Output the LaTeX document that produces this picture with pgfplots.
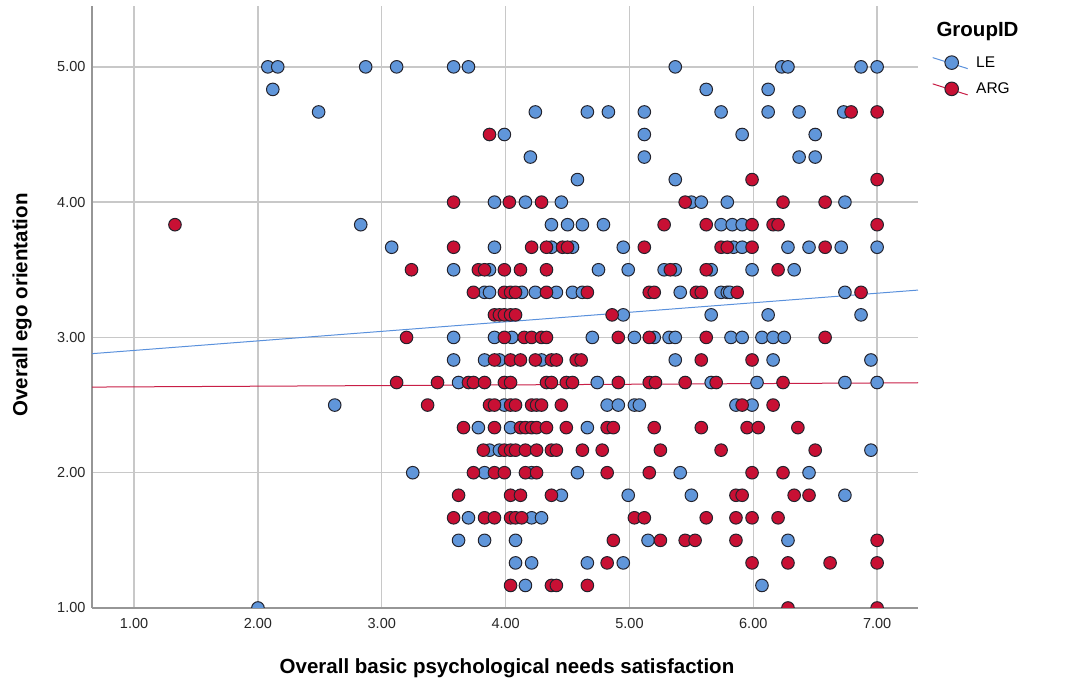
\documentclass[border=0pt]{standalone}
\usepackage{pgfplots}
\usepackage{pgfplotstable}
\pgfplotsset{compat=1.18}
\usepackage{fontspec}
\setmainfont{Liberation Sans}

\definecolor{ptblue}{RGB}{96,150,218}
\definecolor{ptred}{RGB}{200,16,52}
\definecolor{lineblue}{RGB}{90,145,220}
\definecolor{linered}{RGB}{200,30,70}
\definecolor{edgec}{RGB}{35,35,45}
\definecolor{gridc}{RGB}{200,200,200}
\definecolor{axisc}{RGB}{150,150,150}

% Group LE
\pgfplotstableread{
x y
2.08 5 
2.16 5 
2.87 5 
3.12 5 
3.58 5 
3.70 5 
5.37 5 
6.23 5 
6.28 5 
6.87 5 
7.00 5
2.12 4.8333
5.62 4.8333
6.12 4.8333
2.49 4.6667
4.24 4.6667
4.66 4.6667
4.83 4.6667
5.12 4.6667
5.74 4.6667
6.12 4.6667
6.37 4.6667
6.73 4.6667
3.99 4.5
5.12 4.5
5.91 4.5
6.50 4.5
4.20 4.3333
5.12 4.3333
6.37 4.3333
6.50 4.3333
4.58 4.1667
5.37 4.1667
3.91 4
4.16 4
4.45 4
5.50 4
5.58 4
5.79 4
6.74 4
2.83 3.8333
4.37 3.8333
4.50 3.8333
4.62 3.8333
4.79 3.8333
5.74 3.8333
5.83 3.8333
5.91 3.8333
3.08 3.6667
3.91 3.6667
4.37 3.6667
4.54 3.6667
4.95 3.6667
5.84 3.6667
5.91 3.6667
6.28 3.6667
6.45 3.6667
6.71 3.6667
7.00 3.6667
3.58 3.5
3.87 3.5
4.75 3.5
4.99 3.5
5.28 3.5
5.37 3.5
5.66 3.5
5.99 3.5
6.33 3.5
3.83 3.3333
3.87 3.3333
4.13 3.3333
4.24 3.3333
4.41 3.3333
4.54 3.3333
4.62 3.3333
5.41 3.3333
5.74 3.3333
5.79 3.3333
5.81 3.3333
6.74 3.3333
4.95 3.1667
5.66 3.1667
6.12 3.1667
6.87 3.1667
3.58 3
3.91 3
4.05 3
4.70 3
5.04 3
5.20 3
5.32 3
5.37 3
5.82 3
5.91 3
6.07 3
6.16 3
6.25 3
3.58 2.8333
3.83 2.8333
3.95 2.8333
4.29 2.8333
5.37 2.8333
6.16 2.8333
6.95 2.8333
3.62 2.6667
4.74 2.6667
5.66 2.6667
6.03 2.6667
6.74 2.6667
7.00 2.6667
2.62 2.5
3.99 2.5
4.82 2.5
4.91 2.5
5.04 2.5
5.08 2.5
5.86 2.5
5.99 2.5
3.78 2.3333
4.04 2.3333
4.66 2.3333
3.87 2.1667
3.95 2.1667
6.95 2.1667
3.25 2
3.83 2
4.21 2
4.58 2
5.41 2
6.45 2
4.45 1.8333
4.99 1.8333
5.50 1.8333
6.74 1.8333
3.70 1.6667
4.21 1.6667
4.29 1.6667
3.62 1.5
3.83 1.5
4.08 1.5
5.15 1.5
6.28 1.5
4.08 1.3333
4.21 1.3333
4.66 1.3333
4.95 1.3333
4.16 1.1667
6.07 1.1667
2.00 1
}\groupLE

% Group ARG
\pgfplotstableread{
x y
6.79 4.6667
7.00 4.6667
3.87 4.5
5.99 4.1667
7.00 4.1667
3.58 4
4.03 4
4.29 4
5.45 4
6.24 4
6.58 4
1.33 3.8333
5.28 3.8333
5.62 3.8333
5.99 3.8333
6.16 3.8333
6.20 3.8333
7.00 3.8333
3.58 3.6667
4.21 3.6667
4.33 3.6667
4.46 3.6667
4.50 3.6667
5.12 3.6667
5.74 3.6667
5.79 3.6667
5.99 3.6667
6.58 3.6667
3.24 3.5
3.78 3.5
3.83 3.5
3.99 3.5
4.12 3.5
4.33 3.5
5.33 3.5
5.62 3.5
6.20 3.5
3.74 3.3333
3.99 3.3333
4.04 3.3333
4.08 3.3333
4.33 3.3333
4.66 3.3333
5.16 3.3333
5.20 3.3333
5.54 3.3333
5.58 3.3333
5.87 3.3333
6.87 3.3333
3.91 3.1667
3.95 3.1667
3.99 3.1667
4.04 3.1667
4.08 3.1667
4.86 3.1667
3.20 3
3.99 3
4.15 3
4.21 3
4.29 3
4.33 3
4.91 3
5.16 3
5.62 3
6.58 3
3.91 2.8333
4.04 2.8333
4.12 2.8333
4.24 2.8333
4.37 2.8333
4.41 2.8333
4.57 2.8333
4.61 2.8333
5.58 2.8333
5.99 2.8333
3.12 2.6667
3.45 2.6667
3.70 2.6667
3.74 2.6667
3.83 2.6667
3.99 2.6667
4.04 2.6667
4.33 2.6667
4.37 2.6667
4.49 2.6667
4.54 2.6667
4.91 2.6667
5.16 2.6667
5.21 2.6667
5.45 2.6667
5.70 2.6667
6.24 2.6667
3.37 2.5
3.87 2.5
3.91 2.5
4.04 2.5
4.08 2.5
4.21 2.5
4.25 2.5
4.29 2.5
4.45 2.5
5.91 2.5
6.16 2.5
3.66 2.3333
3.91 2.3333
4.12 2.3333
4.16 2.3333
4.21 2.3333
4.25 2.3333
4.33 2.3333
4.49 2.3333
4.82 2.3333
4.87 2.3333
5.20 2.3333
5.58 2.3333
5.95 2.3333
6.04 2.3333
6.36 2.3333
3.82 2.1667
3.99 2.1667
4.04 2.1667
4.08 2.1667
4.16 2.1667
4.25 2.1667
4.37 2.1667
4.41 2.1667
4.62 2.1667
4.78 2.1667
5.25 2.1667
5.74 2.1667
6.50 2.1667
3.74 2
3.91 2
3.99 2
4.16 2
4.25 2
4.82 2
5.16 2
5.99 2
6.24 2
3.62 1.8333
4.04 1.8333
4.12 1.8333
4.37 1.8333
5.86 1.8333
5.91 1.8333
6.33 1.8333
6.45 1.8333
3.58 1.6667
3.83 1.6667
3.91 1.6667
4.04 1.6667
4.08 1.6667
4.13 1.6667
5.04 1.6667
5.12 1.6667
5.62 1.6667
5.86 1.6667
5.99 1.6667
6.20 1.6667
4.87 1.5
5.25 1.5
5.45 1.5
5.53 1.5
5.86 1.5
7.00 1.5
4.82 1.3333
5.99 1.3333
6.28 1.3333
6.62 1.3333
7.00 1.3333
4.04 1.1667
4.37 1.1667
4.41 1.1667
4.66 1.1667
6.28 1
7.00 1
}\groupARG

\begin{document}
\begin{tikzpicture}[x=1pt,y=1pt]
\useasboundingbox (0,0) rectangle (1077,687);
\begin{axis}[
  at={(92pt,79pt)}, anchor=south west,
  scale only axis, width=826pt, height=602pt,
  xmin=0.66, xmax=7.33, ymin=1, ymax=5.45,
  xtick={1,2,3,4,5,6,7}, ytick={1,2,3,4,5},
  major tick length=0pt,
  grid=major,
  major grid style={draw=gridc, line width=1.3pt},
  axis x line*=bottom, axis y line*=left,
  axis line style={-, draw=axisc, line width=1.8pt},
  clip marker paths=true,
  /pgf/number format/assume math mode=true,
  /pgf/number format/.cd, fixed, fixed zerofill, precision=2, /pgfplots/.cd,
  tick label style={font=\fontsize{14.5}{16}\selectfont, text=black!85},
  xticklabel style={yshift=-7pt},
  yticklabel style={xshift=-3pt},
  legend style={draw=none, fill=none, at={(rel axis cs:1.0133,0.923)}, anchor=north west,
    font=\fontsize{15.5}{18}\selectfont, row sep=10pt,
    /tikz/every odd column/.append style={column sep=6pt}},
  legend cell align=left,
]
% fitted lines per group
\addplot[lineblue, line width=1pt, forget plot] coordinates {(0.66,2.88) (7.33,3.35)};
\addplot[linered, line width=1pt, forget plot] coordinates {(0.66,2.633) (7.33,2.665)};
% scatter of the two groups
\addplot[only marks, mark=*, mark size=6.3pt, mark options={fill=ptblue, draw=edgec, line width=1pt}, forget plot] table {\groupLE};
\addplot[only marks, mark=*, mark size=6.3pt, mark options={fill=ptred, draw=edgec, line width=1pt}, forget plot] table {\groupARG};
\addlegendimage{legend image code/.code={
  \draw[lineblue, line width=1pt] (-19pt,5pt) -- (16pt,-6pt);
  \draw[fill=ptblue, draw=edgec, line width=1pt] (0pt,0pt) circle (6.8pt);}}
\addlegendentry{LE}
\addlegendimage{legend image code/.code={
  \draw[linered, line width=1pt] (-19pt,5pt) -- (16pt,-6pt);
  \draw[fill=ptred, draw=edgec, line width=1pt] (0pt,0pt) circle (6.8pt);}}
\addlegendentry{ARG}
\end{axis}
\node[anchor=west, font=\fontsize{20.5}{24}\selectfont\bfseries] at (933,656) {GroupID};
\node[font=\fontsize{20.5}{24}\selectfont\bfseries] at (507,19) {Overall basic psychological needs satisfaction};
\node[rotate=90, font=\fontsize{20.5}{24}\selectfont\bfseries] at (22,382) {Overall ego orientation};
\end{tikzpicture}
\end{document}
